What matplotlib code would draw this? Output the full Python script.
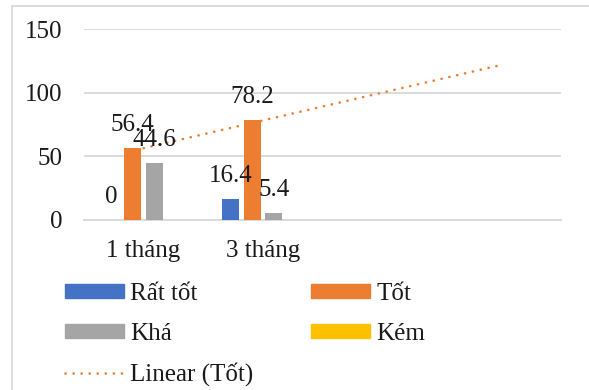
import numpy as np
import matplotlib
matplotlib.use("Agg")
import matplotlib.pyplot as plt
from matplotlib.patches import Rectangle, Patch
from matplotlib.lines import Line2D

plt.rcParams['font.family'] = ['Liberation Serif', 'DejaVu Serif']

categories = ["1 tháng", "3 tháng"]
series_names = ["Rất tốt", "Tốt", "Khá", "Kém"]
rat_tot = [0, 16.4]
tot = [56.4, 78.2]
kha = [44.6, 5.4]
kem = [np.nan, np.nan]
y_ticks = [0, 50, 100, 150]
forecast_forward = 2

colors = ["#4472C4", "#ED7D31", "#A5A5A5", "#FFC000"]
values = [rat_tot, tot, kha, kem]

W, H = 589, 390
fig = plt.figure(figsize=(W / 100, H / 100), dpi=100)

def fx(px):
    return px / W

def fy(py):
    return 1 - py / H

# outer chart border
fig.add_artist(Rectangle((fx(12), fy(400)), fx(700), fy(6) - fy(400),
                         transform=fig.transFigure, fill=False,
                         edgecolor="#d9d9d9", lw=1.3))

ax = fig.add_axes([fx(84), fy(220), fx(561) - fx(84), fy(29) - fy(220)])

n_slots = len(categories) + forecast_forward
x = np.arange(len(categories))
bar_w = 0.143
step = 0.181
fs = 18

for i, (name, vals, c) in enumerate(zip(series_names, values, colors)):
    pos = x + (i - 1.5) * step
    ax.bar(pos, vals, width=bar_w, color=c, zorder=3)
    for px, v in zip(pos, vals):
        if np.isfinite(v):
            ax.annotate(f"{v:g}", (px, v), xytext=(0, 12.3),
                        textcoords="offset points", ha="center",
                        va="baseline", fontsize=fs, color="#1a1a1a",
                        zorder=5)

# linear trend of "Tốt", extended forward
coef = np.polyfit(x, tot, 1)
xt = np.array([0, n_slots - 1])
ax.plot(xt, np.polyval(coef, xt), color="#ED7D31", lw=1.9,
        linestyle=(0, (0.05, 3.0)), dash_capstyle="round", zorder=4)

ax.set_xlim(-0.5, n_slots - 0.5)
ax.set_ylim(0, 150)
ax.set_yticks(y_ticks)
ax.set_xticks(np.arange(n_slots))
ax.set_xticklabels(categories + [""] * forecast_forward)
ax.tick_params(axis="y", length=0, pad=15.5, labelsize=fs, labelcolor="#1a1a1a")
ax.tick_params(axis="x", length=0, pad=14.5, labelsize=fs, labelcolor="#1a1a1a")
ax.grid(axis="y", color="#d9d9d9", lw=1.3, zorder=0)
for s in ["top", "right", "left"]:
    ax.spines[s].set_visible(False)
ax.spines["bottom"].set_color("#d9d9d9")
ax.spines["bottom"].set_linewidth(1.3)

handles = [Patch(color=colors[0]), Patch(color=colors[2]),
           Line2D([], [], color="#ED7D31", lw=1.9, linestyle=(0, (0.05, 3.0)),
                  dash_capstyle="round"),
           Patch(color=colors[1]), Patch(color=colors[3])]
labels = [series_names[0], series_names[2], "Linear (Tốt)",
          series_names[1], series_names[3]]
fig.legend(handles, labels, ncol=2, loc="upper left",
           bbox_to_anchor=(fx(65), fy(283)), frameon=False, borderpad=0,
           borderaxespad=0, fontsize=fs, handlelength=2.36, handleheight=0.5,
           handletextpad=0.25, columnspacing=2.3, labelspacing=0.71,
           labelcolor="#1a1a1a")

fig.savefig("out.png", dpi=100)
